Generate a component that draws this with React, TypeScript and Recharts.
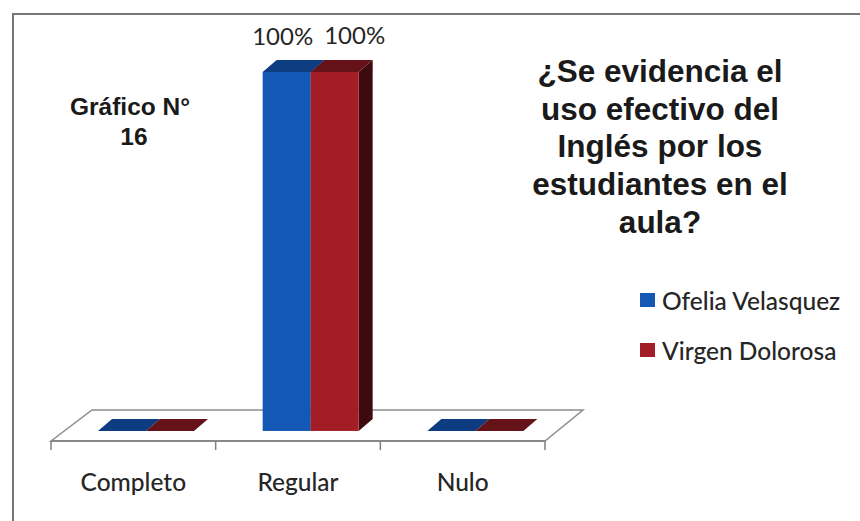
import React from 'react';
import { BarChart, Bar, XAxis, YAxis, LabelList, Legend } from 'recharts';

const categories = ['Completo', 'Regular', 'Nulo'];
const ofeliaValues = [0, 100, 0];
const virgenValues = [0, 100, 0];
const titleLines = ['¿Se evidencia el', 'uso efectivo del', 'Inglés por los', 'estudiantes en el', 'aula?'];
const headingLines = ['Gráfico N°', '16'];

const chartData = categories.map((name, i) => ({
  name,
  ofelia: ofeliaValues[i],
  virgen: virgenValues[i],
}));

const WIDTH = 860;
const HEIGHT = 521;
const PLOT_LEFT = 51;
const PLOT_RIGHT = 545;
const PLOT_TOP = 72;
const PLOT_BOTTOM = 441;
const BAND = (PLOT_RIGHT - PLOT_LEFT) / 3;

// depth of the fake 3D columns
const DEPTH_X = 14;
const DEPTH_Y = 12;
const COLUMN_SHIFT = 13;

const CALIBRI_LIKE = 'Lato, "Open Sans", sans-serif';
const ARIAL_LIKE = '"Liberation Sans", Arial, sans-serif';
const INK = '#262626';

const Column3D = (props: any) => {
  const { x, y, width, height, fill, topFill, sideFill } = props;
  const left = x + COLUMN_SHIFT;
  const right = left + width;
  const bottom = y + height;
  return (
    <g>
      <polygon
        points={`${right},${y} ${right + DEPTH_X},${y - DEPTH_Y} ${right + DEPTH_X},${bottom - DEPTH_Y} ${right},${bottom}`}
        fill={sideFill}
      />
      <rect x={left} y={y} width={width} height={height} fill={fill} />
      <polygon
        points={`${left},${y} ${left + DEPTH_X},${y - DEPTH_Y} ${right + DEPTH_X},${y - DEPTH_Y} ${right},${y}`}
        fill={topFill}
      />
    </g>
  );
};

// Ticks sit on the category boundaries, labels stay in the band centre
const CategoryTick = (props: any) => {
  const { x, index, payload } = props;
  const boundary = x - BAND / 2;
  return (
    <g>
      <line x1={boundary} x2={boundary} y1={PLOT_BOTTOM} y2={PLOT_BOTTOM + 9} stroke="#7f7f7f" strokeWidth={1.5} />
      {index === categories.length - 1 && (
        <line x1={boundary + BAND} x2={boundary + BAND} y1={PLOT_BOTTOM} y2={PLOT_BOTTOM + 9} stroke="#7f7f7f" strokeWidth={1.5} />
      )}
      <text x={x} y={PLOT_BOTTOM + 50} textAnchor="middle" fontFamily={CALIBRI_LIKE} fontSize={24.5} fontWeight={500} fill={INK}>
        {payload.value}
      </text>
    </g>
  );
};

const valueLabel = (shift: number, baseline: number) => (props: any) => {
  const { x, width, value } = props;
  if (!value) return null;
  return (
    <text x={x + COLUMN_SHIFT + width / 2 + shift} y={baseline} textAnchor="middle" fontFamily={CALIBRI_LIKE} fontSize={24} fill={INK}>
      {value}%
    </text>
  );
};

const LegendList = ({ payload }: any) => (
  <div style={{ fontFamily: CALIBRI_LIKE, fontSize: 24.5, fontWeight: 500, color: INK }}>
    {(payload || []).map((entry: any) => (
      <div key={entry.value} style={{ display: 'flex', alignItems: 'center', height: 50, whiteSpace: 'nowrap' }}>
        <span style={{ width: 15, height: 14, background: entry.color, marginRight: 7 }} />
        {entry.value}
      </div>
    ))}
  </div>
);

const App = () => (
  <div style={{ position: 'absolute', left: 0, top: 0, width: WIDTH, height: HEIGHT, background: '#fff', overflow: 'hidden' }}>
    <div style={{ position: 'absolute', left: 12, top: 13, right: 0, bottom: 0, borderTop: '2px solid #777', borderLeft: '2px solid #777' }} />
    <BarChart
      width={WIDTH}
      height={HEIGHT}
      data={chartData}
      margin={{ top: PLOT_TOP, right: WIDTH - PLOT_RIGHT, bottom: 0, left: PLOT_LEFT }}
      barSize={48}
      barGap={0}
      style={{ position: 'absolute', left: 0, top: 0 }}
    >
      {/* floor of the 3D plot */}
      <polygon
        points={`${PLOT_LEFT},${PLOT_BOTTOM} 92,410 583,410 ${PLOT_RIGHT},${PLOT_BOTTOM}`}
        fill="#ffffff"
        stroke="#8c8c8c"
        strokeWidth={1.5}
      />
      <YAxis hide type="number" domain={[-2.8, 100]} />
      <XAxis
        dataKey="name"
        height={HEIGHT - PLOT_BOTTOM}
        interval={0}
        tickLine={false}
        axisLine={{ stroke: '#7f7f7f', strokeWidth: 1.5 }}
        tick={<CategoryTick />}
      />
      {/* centred on both axes so the legend takes no room from the plot */}
      <Legend
        layout="vertical"
        align="center"
        verticalAlign="middle"
        content={<LegendList />}
        wrapperStyle={{ left: 640, top: 275, width: 215, bottom: 'auto', right: 'auto' }}
      />
      <Bar
        dataKey="ofelia"
        name="Ofelia Velasquez"
        fill="#1358b4"
        isAnimationActive={false}
        shape={(p: any) => <Column3D {...p} topFill="#0e3c80" sideFill="#0e3c80" />}
      >
        <LabelList dataKey="ofelia" content={valueLabel(-4, 45)} />
      </Bar>
      <Bar
        dataKey="virgen"
        name="Virgen Dolorosa"
        fill="#a31d26"
        isAnimationActive={false}
        shape={(p: any) => <Column3D {...p} topFill="#651219" sideFill="#3d0a0e" />}
      >
        <LabelList dataKey="virgen" content={valueLabel(20, 44)} />
      </Bar>
      <text fontFamily={ARIAL_LIKE} fontWeight="bold" fontSize={31.5} fill="#1a1a1a" textAnchor="middle">
        {titleLines.map((line, i) => (
          <tspan key={line} x={660} y={82 + i * 37.7}>
            {line}
          </tspan>
        ))}
      </text>
      <text fontFamily={ARIAL_LIKE} fontWeight="bold" fontSize={24.5} fill="#1a1a1a" textAnchor="middle">
        {headingLines.map((line, i) => (
          <tspan key={line} x={i === 0 ? 130 : 134} y={115 + i * 30}>
            {line}
          </tspan>
        ))}
      </text>
    </BarChart>
  </div>
);

export default App;
